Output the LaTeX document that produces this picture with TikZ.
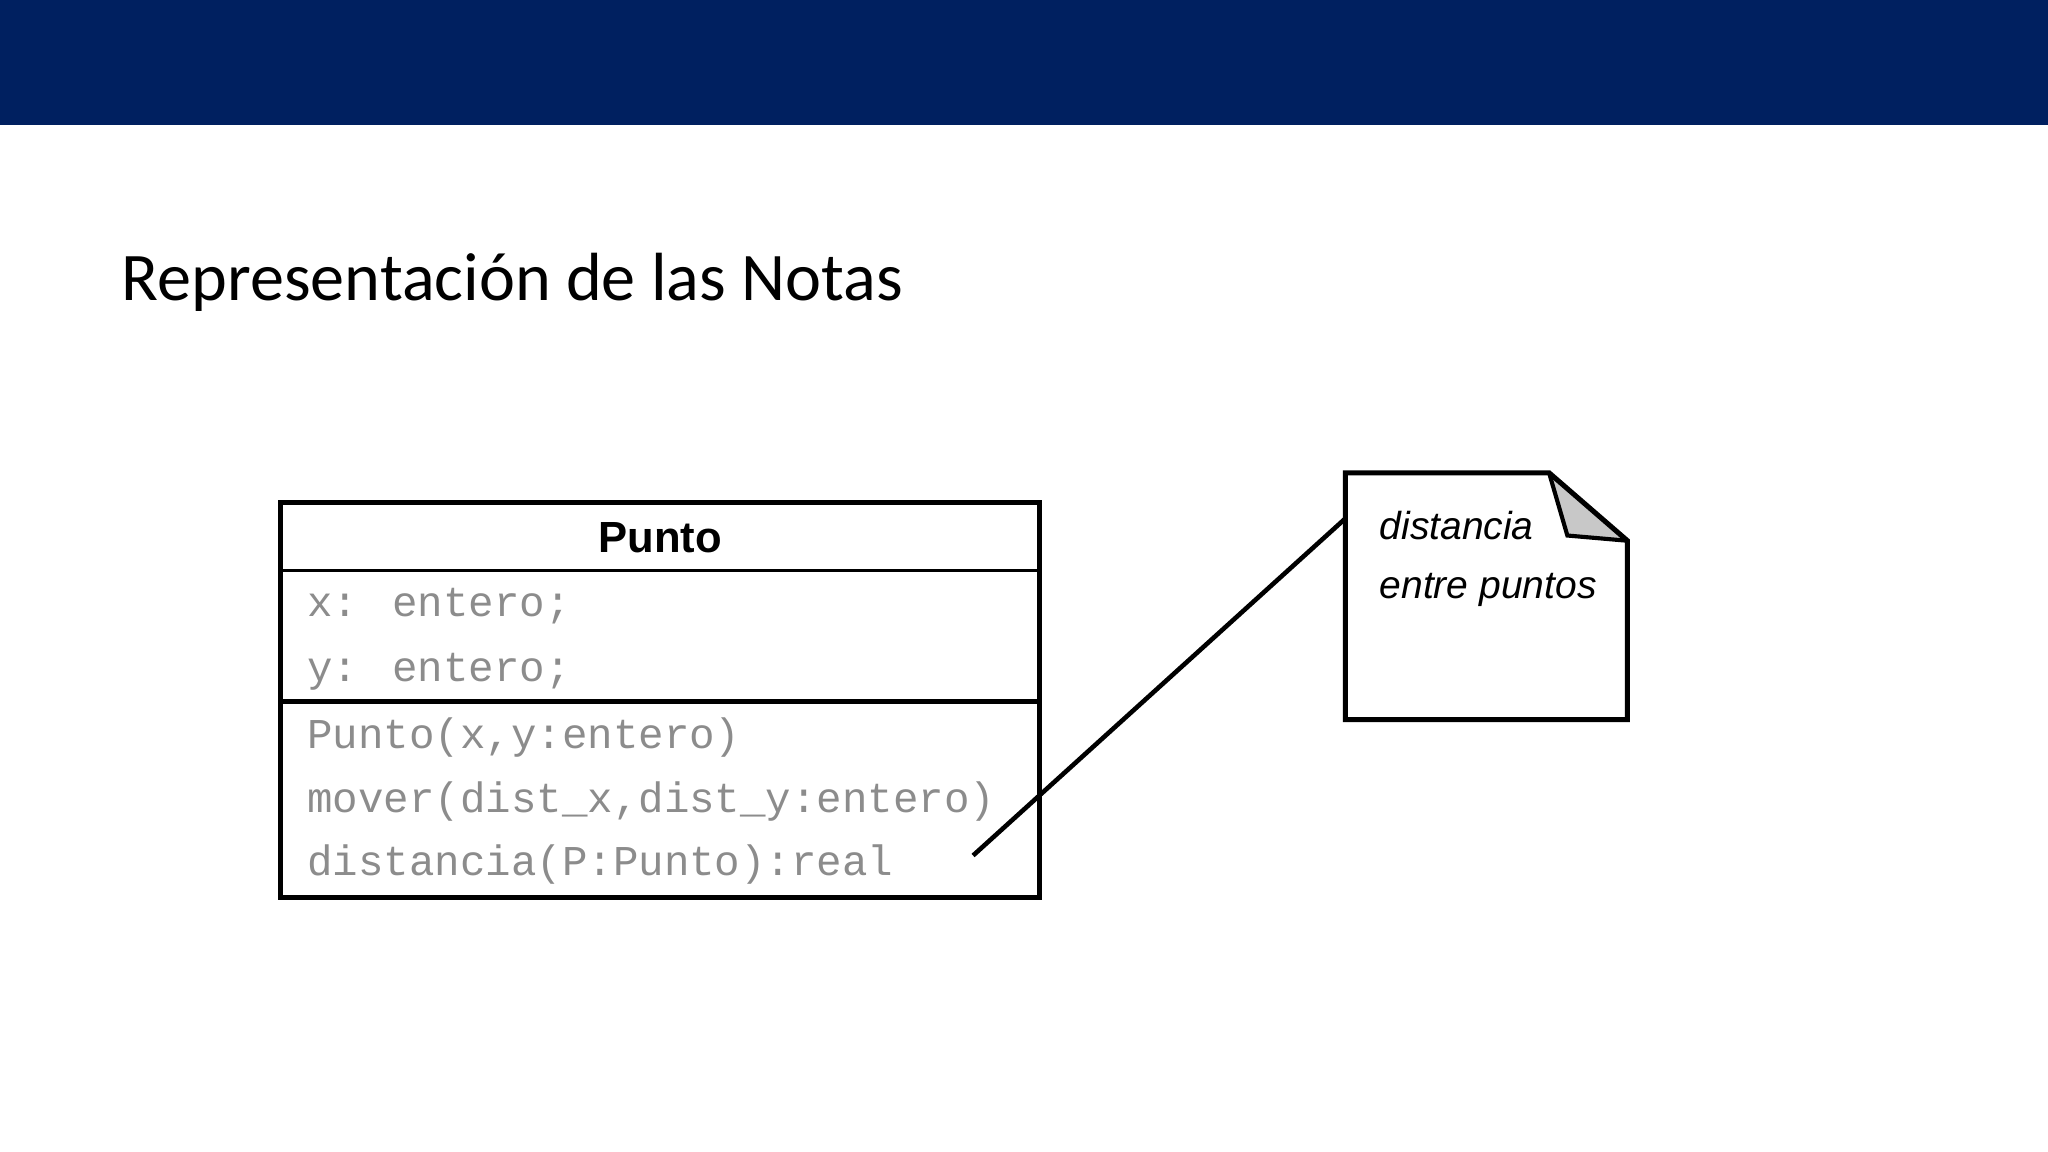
\documentclass[tikz,border=0pt]{standalone}
\usepackage{fontspec}
\setmainfont{Carlito}
\newfontfamily\arialf{Liberation Sans}
\newfontfamily\monof{Liberation Mono}
\definecolor{barblue}{RGB}{0,32,96}
\definecolor{txtgray}{RGB}{140,140,140}
\definecolor{foldgray}{RGB}{200,200,200}
\begin{document}
\begin{tikzpicture}[x=0.02cm,y=-0.02cm,
  mono/.style={anchor=base west,inner sep=0,text=txtgray,font=\monof\fontsize{18.5}{20}\selectfont},
  notetxt/.style={anchor=base west,inner sep=0,font=\arialf\itshape\fontsize{17}{19}\selectfont}]
\useasboundingbox (0,0) rectangle (1568,882);
\fill[barblue] (0,0) rectangle (1568,96);
\node[anchor=base west,inner sep=0,font=\fontsize{29.7}{34}\selectfont] (title) at (93,230) {Representación de las Notas};
% class
\draw[line width=2.2pt] (215,385) rectangle (796,687);
\draw[line width=1.2pt] (215,437) -- (796,437);
\draw[line width=2.2pt] (215,537) -- (796,537);
\node[inner sep=0,font=\arialf\bfseries\fontsize{19}{21}\selectfont] (cls) at (505.5,412) {Punto};
\node[mono] (a1) at (235,472) {x: entero;};
\node[mono] (a2) at (235,522) {y: entero;};
\node[mono] (m1) at (235,573) {Punto(x,y:entero)};
\node[mono] (m2) at (235,622) {mover(dist\_x,dist\_y:entero)};
\node[mono] (m3) at (235,670) {distancia(P:Punto):real};
% note
\fill[foldgray] (1186,362) -- (1246,414) -- (1200,410) -- cycle;
\draw[line width=2.2pt] (1030,362) -- (1186,362) -- (1246,414) -- (1246,551) -- (1030,551) -- cycle;
\draw[line width=1.8pt] (1186,362) -- (1200,410) -- (1246,414);
\node[notetxt] (n1) at (1056,413) {distancia};
\node[notetxt] (n2) at (1056,458) {entre puntos};
\coordinate (p) at (745,655);
\coordinate (q) at (1030,397);
\draw[line width=2pt] (p) -- (q);
\end{tikzpicture}
\end{document}
